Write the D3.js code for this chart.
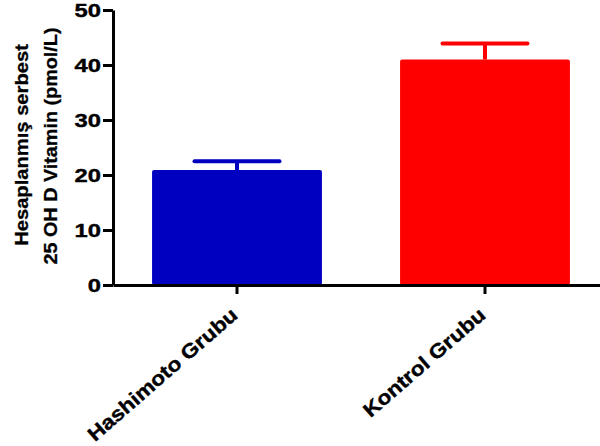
<!DOCTYPE html>
<html>
<head>
<meta charset="utf-8">
<script src="https://cdn.jsdelivr.net/npm/d3@7"></script>
<style>
  body { margin: 0; background: #fff; }
  svg { display: block; font-family: Arial, "Liberation Sans", sans-serif; }
</style>
</head>
<body>
<div id="chart"></div>
<script>
// data
var categories = ["Hashimoto Grubu", "Kontrol Grubu"];
var means = [20.9, 41.0];
var sems = [1.6, 2.9];
var barColors = ["#0000C0", "#FF0000"];
var yTicks = [0, 10, 20, 30, 40, 50];
var yTitle = ["Hesaplanmış serbest", "25 OH D Vitamin (pmol/L)"];

var width = 600, height = 446;

var svg = d3.select("#chart")
    .append("svg")
    .attr("width", width)
    .attr("height", height);

var x = d3.scaleBand()
    .domain(categories)
    .range([113, 609])
    .padding(0);

var y = d3.scaleLinear()
    .domain([0, 50])
    .range([285, 10]);

var barW = x.bandwidth() * 0.685;

var rows = categories.map(function(c, i) {
    return {cat: c, mean: means[i], sem: sems[i], color: barColors[i]};
});

// bars
svg.selectAll("rect.bar")
    .data(rows)
    .enter()
    .append("rect")
    .attr("class", "bar")
    .attr("x", function(d) { return x(d.cat) + (x.bandwidth() - barW) / 2; })
    .attr("y", function(d) { return y(d.mean); })
    .attr("width", barW)
    .attr("height", function(d) { return y(0) - y(d.mean); })
    .attr("rx", 2)
    .style("fill", function(d) { return d.color; });

// error bars (upper only)
var eb = svg.selectAll("g.err")
    .data(rows)
    .enter()
    .append("g")
    .attr("class", "err");

eb.append("line")
    .attr("x1", function(d) { return x(d.cat) + x.bandwidth() / 2; })
    .attr("x2", function(d) { return x(d.cat) + x.bandwidth() / 2; })
    .attr("y1", function(d) { return y(d.mean); })
    .attr("y2", function(d) { return y(d.mean + d.sem); })
    .style("stroke", function(d) { return d.color; })
    .style("stroke-width", 4);

eb.append("line")
    .attr("x1", function(d) { return x(d.cat) + x.bandwidth() / 2 - barW / 4; })
    .attr("x2", function(d) { return x(d.cat) + x.bandwidth() / 2 + barW / 4; })
    .attr("y1", function(d) { return y(d.mean + d.sem); })
    .attr("y2", function(d) { return y(d.mean + d.sem); })
    .style("stroke", function(d) { return d.color; })
    .style("stroke-width", 4)
    .style("stroke-linecap", "round");

// y axis
var yAxis = svg.append("g")
    .attr("transform", "translate(113,0)")
    .call(d3.axisLeft(y).tickValues(yTicks).tickSize(10).tickSizeOuter(0));

yAxis.select(".domain").style("stroke-width", 3);
yAxis.selectAll(".tick line").style("stroke-width", 3);
// the original font is wider than Arial, so stretch it a bit
yAxis.selectAll(".tick text")
    .style("font-size", "19px")
    .style("font-weight", "bold")
    .attr("fill", "#000")
    .attr("stroke", "#000")
    .attr("stroke-width", 0.4)
    .attr("x", 0)
    .attr("transform", "translate(-12,0) scale(1.25,1)");

// x axis
var xAxis = svg.append("g")
    .attr("transform", "translate(0,285)")
    .call(d3.axisBottom(x).tickSize(9).tickSizeOuter(0));

xAxis.select(".domain").style("stroke-width", 3);
xAxis.selectAll(".tick line").style("stroke-width", 3);
xAxis.selectAll(".tick text")
    .style("font-size", "20px")
    .style("font-weight", "bold")
    .attr("fill", "#000")
    .attr("stroke", "#000")
    .attr("stroke-width", 0.4)
    .attr("text-anchor", "end")
    .attr("dy", null)
    .attr("y", 0)
    .attr("transform", "translate(2,32) rotate(-41) scale(1.13,1)");

// y title, two lines
svg.append("text")
    .attr("transform", "translate(28,145) rotate(-90) scale(1.12,1)")
    .attr("text-anchor", "middle")
    .attr("stroke", "#000")
    .attr("stroke-width", 0.3)
    .style("font-size", "18px")
    .style("font-weight", "bold")
    .text(yTitle[0]);

svg.append("text")
    .attr("transform", "translate(57,146) rotate(-90) scale(1.1,1)")
    .attr("text-anchor", "middle")
    .attr("stroke", "#000")
    .attr("stroke-width", 0.3)
    .style("font-size", "18px")
    .style("font-weight", "bold")
    .text(yTitle[1]);
</script>
</body>
</html>
